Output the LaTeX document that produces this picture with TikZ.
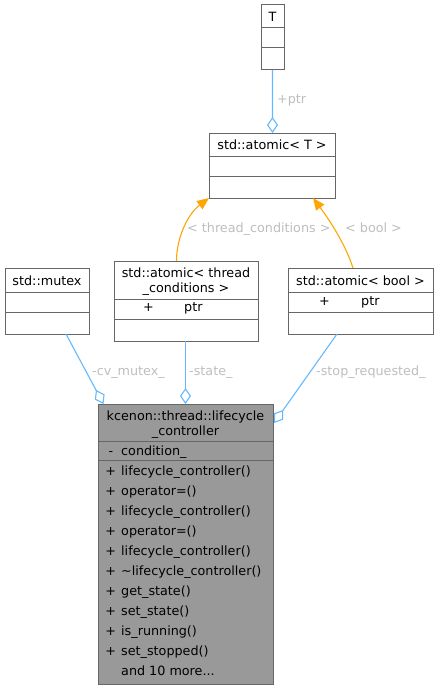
\documentclass[tikz,border=0pt]{standalone}
\usepackage{fontspec}
\setmainfont{DejaVu Sans}
\usetikzlibrary{arrows.meta,calc}
\definecolor{edgeblue}{HTML}{63B8FF}
\definecolor{edgeorange}{HTML}{FFA500}
\definecolor{lblgray}{HTML}{BEBEBE}
\definecolor{bordergray}{HTML}{666666}
\definecolor{mainfill}{HTML}{999999}
\tikzset{
  cls/.style={draw=bordergray, line width=1bp, fill=white, inner sep=0pt, outer sep=0pt, anchor=north west},
  divider/.style={draw=bordergray, line width=1bp},
  txt/.style={inner sep=0pt, anchor=base, font=\fontsize{12.8}{15}\selectfont, align=center},
  txtl/.style={inner sep=0pt, anchor=base west, font=\fontsize{12.8}{15}\selectfont},
  lbl/.style={inner sep=0pt, anchor=base west, text=lblgray, font=\fontsize{12.8}{15}\selectfont},
  agg/.style={draw=edgeblue, line width=1.1bp, -{Diamond[open,length=16bp,width=11bp]}},
  tmpl/.style={draw=edgeorange, line width=1.1bp, -{Triangle[length=12bp,width=10bp]}},
}
\begin{document}
\begin{tikzpicture}[x=1bp,y=-1bp]
\useasboundingbox (0,0) rectangle (439,689);
% T
\node[cls, minimum width=23bp, minimum height=65bp] (T) at (261,5) {};
\draw[divider] ($(T.north west)+(0,23)$) -- ($(T.north east)+(0,23)$);
\draw[divider] ($(T.north west)+(0,43)$) -- ($(T.north east)+(0,43)$);
\node[txt] (Tt) at (272.5,22) {T};
% std::atomic< T >
\node[cls, minimum width=126bp, minimum height=65bp] (aT) at (209,133) {};
\draw[divider] ($(aT.north west)+(0,23)$) -- ($(aT.north east)+(0,23)$);
\draw[divider] ($(aT.north west)+(0,43)$) -- ($(aT.north east)+(0,43)$);
\node[txt] (aTt) at (272,149) {std::atomic< T >};
% std::mutex
\node[cls, minimum width=84bp, minimum height=66bp] (mx) at (5,268) {};
\draw[divider] ($(mx.north west)+(0,24)$) -- ($(mx.north east)+(0,24)$);
\draw[divider] ($(mx.north west)+(0,44)$) -- ($(mx.north east)+(0,44)$);
\node[txt] (mxt) at (47,285) {std::mutex};
% std::atomic< thread_conditions >
\node[cls, minimum width=144bp, minimum height=80bp] (aTC) at (114,261) {};
\draw[divider] ($(aTC.north west)+(0,38)$) -- ($(aTC.north east)+(0,38)$);
\draw[divider] ($(aTC.north west)+(0,58)$) -- ($(aTC.north east)+(0,58)$);
\node[txt] (aTCt1) at (186,277) {std::atomic< thread};
\node[txt] (aTCt2) at (186,292) {\_conditions >};
\node[txt] (aTCp) at (148.5,311) {+};
\node[txtl] (aTCv) at (184,311) {ptr};
% std::atomic< bool >
\node[cls, minimum width=145bp, minimum height=66bp] (aB) at (288,268) {};
\draw[divider] ($(aB.north west)+(0,24)$) -- ($(aB.north east)+(0,24)$);
\draw[divider] ($(aB.north west)+(0,44)$) -- ($(aB.north east)+(0,44)$);
\node[txt] (aBt) at (360.5,285) {std::atomic< bool >};
\node[txt] (aBp) at (324.5,305) {+};
\node[txtl] (aBv) at (361,305) {ptr};
% main class
\node[cls, fill=mainfill, minimum width=175bp, minimum height=280bp] (main) at (98,404) {};
\draw[divider] ($(main.north west)+(0,37)$) -- ($(main.north east)+(0,37)$);
\draw[divider] ($(main.north west)+(0,56)$) -- ($(main.north east)+(0,56)$);
\node[txt] (mt1) at (185.5,420) {kcenon::thread::lifecycle};
\node[txt] (mt2) at (185.5,435) {\_controller};
\node[txt] (m0p) at (110.8,455) {-};
\node[txtl] (m0) at (121,455) {condition\_};
\foreach \t [count=\i from 0] in {lifecycle\_controller(),operator=(),lifecycle\_controller(),operator=(),lifecycle\_controller(),\textasciitilde lifecycle\_controller(),get\_state(),set\_state(),is\_running(),set\_stopped()}{
  \node[txt] (mp\i) at (110.8,475+20*\i) {+};
  \node[txtl] (mm\i) at (121,475+20*\i) {\t};
}
\node[txtl] (mmore) at (121,675) {and 10 more...};
% edges
\draw[agg] (T.south) -- ($(aT.north west)+(63.5,0)$);
\node[lbl] (lptr) at (277,104) {+ptr};
\draw[tmpl] ($(aTC.north west)+(62.5,0)$) .. controls (176.5,236) and (189,213) .. (aT.south west);
\node[lbl] (ltc) at (187,232) {< thread\_conditions >};
\draw[tmpl] ($(aB.north west)+(65,0)$) .. controls (346,246) and (331,222) .. ($(aT.south west)+(104,0)$);
\node[lbl] (lb) at (345,232) {< bool >};
\draw[agg] ($(mx.south west)+(61,0)$) -- ($(main.north west)+(5.5,0)$);
\node[lbl] (lcv) at (92,375) {-cv\_mutex\_};
\draw[agg] ($(aTC.south west)+(71.5,0)$) -- ($(main.north west)+(87.5,0)$);
\node[lbl] (lst) at (189,375) {-state\_};
\draw[agg] ($(aB.south west)+(49,0)$) -- ($(main.north east)+(1,19)$);
\node[lbl] (lsr) at (316,375) {-stop\_requested\_};
\end{tikzpicture}
\end{document}
